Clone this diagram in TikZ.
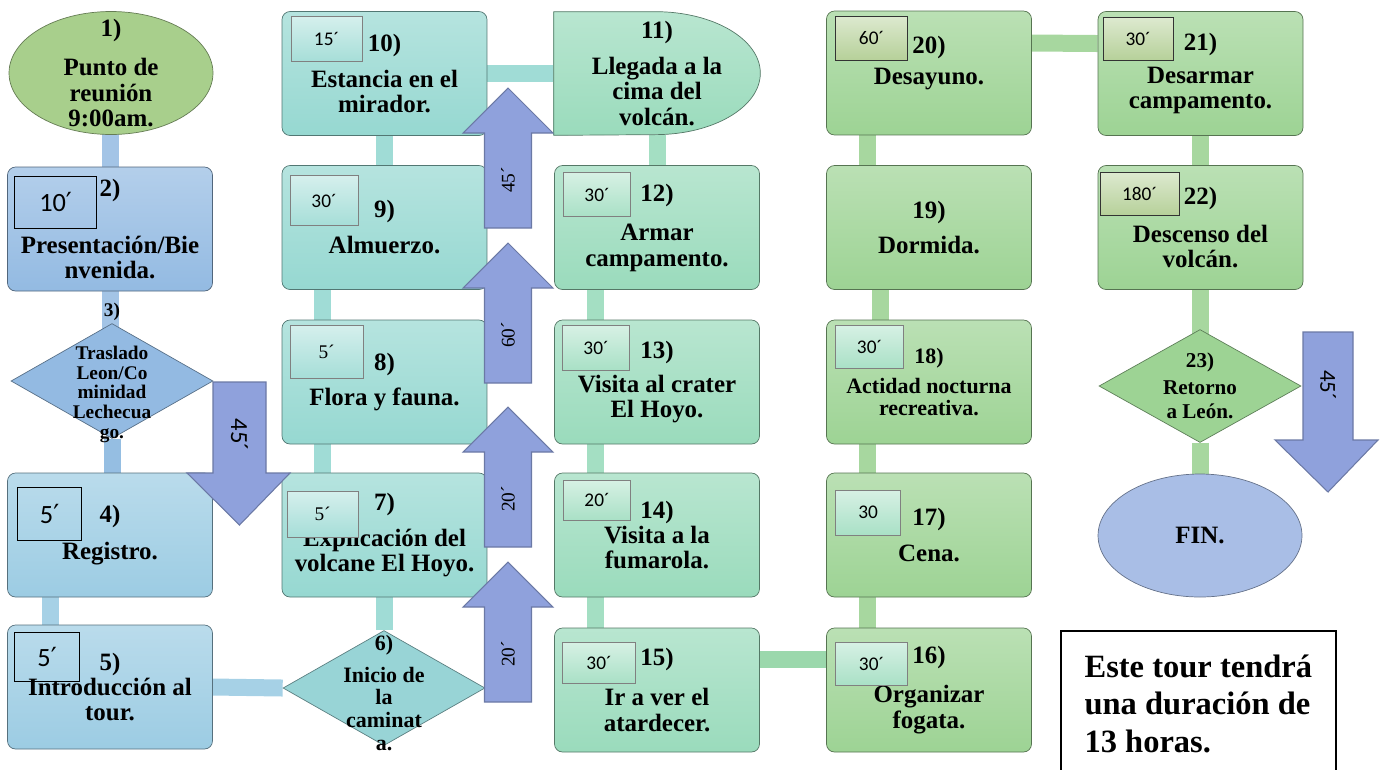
\documentclass[tikz,border=0pt]{standalone}
\usepackage{fontspec}
\setmainfont{Liberation Serif}
\newfontfamily\calib{Carlito}
\newfontfamily\symfont{DejaVu Sans}
\usetikzlibrary{shapes.geometric,backgrounds}

\definecolor{bluebox}{HTML}{93BAE2}
\definecolor{cyanbox}{HTML}{9CCCE3}
\definecolor{tealbox}{HTML}{96D8D1}
\definecolor{mintbox}{HTML}{9ADBBC}
\definecolor{greenbox}{HTML}{9DD394}
\definecolor{ovalgreen}{HTML}{A8CF8C}
\definecolor{finblue}{HTML}{A9BEE6}
\definecolor{arrowblue}{HTML}{8FA1DC}
\definecolor{olivemin}{HTML}{A9C887}

\newcommand{\steptext}{\fontsize{14.2}{14.5}\selectfont\bfseries}
\newcommand{\prm}{{\symfont ′}}

\tikzset{
  stepbox/.style={draw=#1!55!black, top color=#1!70!white, bottom color=#1, rounded corners=0.16cm,
    minimum width=4.1cm, minimum height=2.48cm, align=center, font=\steptext},
  stepoval/.style={ellipse, draw=#1!60!black, fill=#1, minimum width=4.08cm, minimum height=2.46cm},
  stepdiam/.style={diamond, draw=#1!60!black, fill=#1, inner sep=0pt, minimum width=4.04cm, minimum height=2.3cm},
  dtext/.style={align=center, inner sep=0pt},
  minsbox/.style={draw=#1, line width=0.5pt, anchor=north west, inner sep=0pt,
    minimum width=1.4cm, minimum height=0.9cm, font=\calib\fontsize{11}{11}\selectfont},
  minsfill/.style={top color=#1!40!white, bottom color=#1!85!white},
  bar/.style={line width=0.34cm, draw=#1},
  bigarrow/.style={draw=arrowblue!75!black, fill=arrowblue, line width=0.6pt},
  notebox/.style={minimum width=5.48cm, minimum height=2.9cm, align=left,
    inner xsep=0.44cm, inner ysep=0pt, font=\fontsize{18.5}{21.5}\selectfont\bfseries},
}

\begin{document}
\begin{tikzpicture}[x=0.02cm, y=-0.02cm]
	\useasboundingbox (0,0) rectangle (1385,769);
	
	% column 1
	\node[stepoval=ovalgreen] (n1) at (111,73) {};
	\node[dtext, font=\steptext] (n1t) at (n1) {1)\\[8pt]Punto de\\reunión\\9:00am.};
	\node[stepbox=bluebox] (n2) at (110,229) {2)\\[18pt]Presentación/Bie\\nvenida.};
	\node[stepdiam=bluebox] (n3) at (112,381) {};
	\node[dtext, font=\fontsize{11}{11.3}\selectfont\bfseries] (n3t) at ([yshift=0.16cm]n3) {3)\\[13pt]Traslado\\Leon/Co\\minidad\\Lechecua\\go.};
	\node[stepbox=cyanbox] (n4) at (110,535) {4)\\[7pt]Registro.};
	\node[stepbox=cyanbox] (n5) at (110,687) {5)\\Introducción al\\tour.};
	
	% column 2
	\node[stepdiam=tealbox!70!cyanbox] (n6) at (384,688) {};
	\node[dtext, font=\fontsize{12.5}{13}\selectfont\bfseries] (n6t) at ([yshift=-0.1cm]n6) {6)\\[5pt]Inicio de\\la\\caminat\\a.};
	\node[stepbox=tealbox] (n7) at (384.5,535) {7)\\[6pt]Explicación del\\volcane El Hoyo.};
	\node[stepbox=tealbox] (n8) at (384.5,382) {8)\\[5pt]Flora y fauna.};
	\node[stepbox=tealbox] (n9) at (384.5,227.5) {9)\\[6pt]Almuerzo.};
	\node[stepbox=tealbox] (n10) at (384.5,73.5) {10)\\[6pt]Estancia en el\\mirador.};
	
	% column 3
	\node[minimum width=4.12cm, minimum height=2.46cm, align=center, font=\steptext] (n11) at (657,73.5) {11)\\[6pt]Llegada a la\\cima del\\volcán.};
	\node[stepbox=mintbox] (n12) at (657,227.5) {12)\\[8pt]Armar\\campamento.};
	\node[stepbox=mintbox] (n13) at (657,382) {13)\\[5pt]Visita al crater\\El Hoyo.};
	\node[stepbox=mintbox] (n14) at (657,535) {14)\\Visita a la\\fumarola.};
	\node[stepbox=mintbox] (n15) at (657,690) {15)\\[8pt]Ir a ver el\\atardecer.};
	
	% column 4
	\node[stepbox=greenbox] (n16) at (929,690) {16)\\[8pt]Organizar\\fogata.};
	\node[stepbox=greenbox] (n17) at (929,535) {17)\\[6pt]Cena.};
	\node[stepbox=greenbox, font=\fontsize{12.5}{12.5}\selectfont\bfseries] (n18) at (929,382) {18)\\[5pt]Actidad nocturna\\recreativa.};
	\node[stepbox=greenbox] (n19) at (929,227.5) {19)\\[5pt]Dormida.};
	\node[stepbox=greenbox] (n20) at (929,73) {20)\\[3pt]Desayuno.\\~};
	
	% column 5
	\node[stepbox=greenbox] (n21) at (1200.5,73.5) {21)\\[4pt]Desarmar\\campamento.};
	\node[stepbox=greenbox] (n22) at (1200.5,227.5) {22)\\[7pt]Descenso del\\volcán.};
	\node[stepdiam=greenbox, minimum height=2.26cm] (n23) at (1200,386) {};
	\node[dtext, font=\fontsize{12}{13.5}\selectfont\bfseries] (n23t) at (n23) {23)\\[2pt]Retorno\\a León.};
	\node[stepoval=finblue] (fin) at (1200,535.5) {};
	\node[font=\steptext] (fint) at (fin) {FIN.};
	
	% minutes
	\node[minsbox=black, minimum width=1.64cm, minimum height=1.04cm, font=\calib\fontsize{15}{15}\selectfont] (m2) at ([shift={(7,9)}]n2.north west) {10\prm};
	\node[minsbox=black, minimum width=1.28cm, minimum height=1.06cm, font=\calib\fontsize{15}{15}\selectfont] (m4) at ([shift={(10,14)}]n4.north west) {5\prm};
	\node[minsbox=black, minimum width=1.3cm, minimum height=0.98cm, font=\calib\fontsize{15}{15}\selectfont] (m5) at ([shift={(7,7)}]n5.north west) {5\prm};
	\node[minsbox=gray, minsfill=tealbox, minimum width=1.42cm] (m10) at ([shift={(9,5)}]n10.north west) {15´};
	\node[minsbox=gray, minsfill=tealbox, minimum width=1.36cm, minimum height=1cm] (m9) at ([shift={(8,10)}]n9.north west) {30´};
	\node[minsbox=gray, minsfill=tealbox, minimum width=1.46cm, minimum height=1.06cm, font=\fontsize{11}{11}\selectfont] (m8) at ([shift={(8,5)}]n8.north west) {5´};
	\node[minsbox=gray, minsfill=tealbox, minimum width=1.42cm, minimum height=0.92cm, font=\fontsize{11}{11}\selectfont] (m7) at ([shift={(5,18)}]n7.north west) {5´};
	\node[minsbox=gray, minsfill=mintbox, minimum width=1.34cm, minimum height=0.88cm] (m12) at ([shift={(9,7)}]n12.north west) {30´};
	\node[minsbox=gray, minsfill=mintbox, minimum width=1.34cm] (m13) at ([shift={(8,5)}]n13.north west) {30´};
	\node[minsbox=gray, minsfill=mintbox, minimum width=1.34cm, minimum height=0.8cm] (m14) at ([shift={(9,7)}]n14.north west) {20´};
	\node[minsbox=gray, minsfill=mintbox, minimum width=1.46cm, minimum height=0.82cm] (m15) at ([shift={(8,14)}]n15.north west) {30´};
	\node[minsbox=gray, minsfill=mintbox, minimum width=1.44cm, minimum height=0.86cm] (m16) at ([shift={(9,14)}]n16.north west) {30´};
	\node[minsbox=gray, minsfill=mintbox, minimum width=1.3cm] (m17) at ([shift={(9,17)}]n17.north west) {30};
	\node[minsbox=gray, minsfill=mintbox, minimum width=1.36cm, minimum height=0.86cm] (m18) at ([shift={(9,5)}]n18.north west) {30´};
	\node[minsbox=black!80, minsfill=olivemin, minimum width=1.44cm, minimum height=0.88cm] (m20) at ([shift={(9,5)}]n20.north west) {60´};
	\node[minsbox=black!80, minsfill=olivemin, minimum width=1.4cm, minimum height=0.86cm] (m21) at ([shift={(5,6)}]n21.north west) {30´};
	\node[minsbox=black!80, minsfill=olivemin, minimum width=1.58cm, minimum height=0.86cm] (m22) at ([shift={(2,7)}]n22.north west) {180´};
	
	% travel arrows
	\foreach \tip/\lbl [count=\i] in {562/20, 407/20, 243/60, 88/45}{
		\draw[bigarrow] (508,\tip) -- ++(45,45) -- ++(-21.5,0) -- ++(0,95) -- ++(-47,0) -- ++(0,-95) -- ++(-21.5,0) -- cycle;
		\node[rotate=90, font=\fontsize{11}{11}\selectfont] (up\i) at (508,\tip+92) {\lbl´};
	}
	\draw[bigarrow] (213,382) -- (266,382) -- (266,473) -- (290,473) -- (239.5,525) -- (187,473) -- (213,473) -- cycle;
	\node[rotate=-90, font=\calib\fontsize{14}{14}\selectfont] (down1) at (239.5,435) {45´};
	\draw[bigarrow] (1303,332) -- (1353,332) -- (1353,440) -- (1378,440) -- (1328,492) -- (1275,440) -- (1303,440) -- cycle;
	\node[rotate=-90, font=\calib\fontsize{13}{13}\selectfont] (down2) at (1328,385) {45´};
	
	% note
	\node[notebox, anchor=north west] (note) at (1061,631) {Este tour tendrá\\una duración de\\13 horas.};
	\draw[line width=1pt] (note.south west) -- (note.north west) -- (note.north east) -- (note.south east);
	
	% connectors
	\begin{scope}[on background layer]
		\draw[bar=bluebox!85!white] (n2) -- (n2 |- n1);
		\draw[bar=bluebox!85!white] (n2) -- (n2 |- n3);
		\draw[bar=bluebox!80!cyanbox] (n3) -- (n3 |- n4);
		\draw[bar=cyanbox!90!white] ([xshift=-1.2cm]n4.center) -- ([xshift=-1.2cm]n5.center);
		\draw[bar=cyanbox!90!white] (n5.east) -- (n6.west);
		\draw[bar=tealbox!90!white] (n6) -- (n6 |- n7);
		\draw[bar=tealbox!90!white] ([xshift=-1.24cm]n7.center) -- ([xshift=-1.24cm]n8.center);
		\draw[bar=tealbox!90!white] ([xshift=-1.24cm]n8.center) -- ([xshift=-1.24cm]n9.center);
		\draw[bar=tealbox!90!white] (n9) -- (n9 |- n10);
		\draw[bar=tealbox!90!white] (n10.east) -- (n11.west);
		\draw[bar=mintbox!90!white] (n11) -- (n11 |- n12);
		\draw[bar=mintbox!90!white] ([xshift=-1.24cm]n12.center) -- ([xshift=-1.24cm]n13.center);
		\draw[bar=mintbox!90!white] ([xshift=-1.24cm]n13.center) -- ([xshift=-1.24cm]n14.center);
		\draw[bar=mintbox!90!white] ([xshift=-1.24cm]n14.center) -- ([xshift=-1.24cm]n15.center);
		\draw[bar=mintbox!60!greenbox] ([yshift=0.62cm]n15.east) -- ([yshift=0.62cm]n16.west);
		\draw[bar=greenbox!90!white] ([xshift=-1.24cm]n16.center) -- ([xshift=-1.24cm]n17.center);
		\draw[bar=greenbox!90!white] ([xshift=-1.24cm]n17.center) -- ([xshift=-1.24cm]n18.center);
		\draw[bar=greenbox!90!white] ([xshift=-0.98cm]n18.center) -- ([xshift=-0.98cm]n19.center);
		\draw[bar=greenbox!90!white] ([xshift=-1.24cm]n19.center) -- ([xshift=-1.24cm]n20.center);
		\draw[bar=greenbox!90!white] ([yshift=0.6cm]n20.east) -- ([yshift=0.6cm]n21.west);
		\draw[bar=greenbox!90!white] (n21) -- (n21 |- n22);
		\draw[bar=greenbox!90!white] (n22) -- (n22 |- n23);
		\draw[bar=greenbox!90!white] (n23) -- (n23 |- fin);
		% step 11 outline
		\path[draw=mintbox!55!black, top color=mintbox!70!white, bottom color=mintbox] (n11.north west) -- ([xshift=-2.1cm]n11.north east) arc[start angle=90, end angle=-90, x radius=2.1cm, y radius=1.23cm] -- (n11.south west) -- cycle;
	\end{scope}
\end{tikzpicture}
\end{document}
